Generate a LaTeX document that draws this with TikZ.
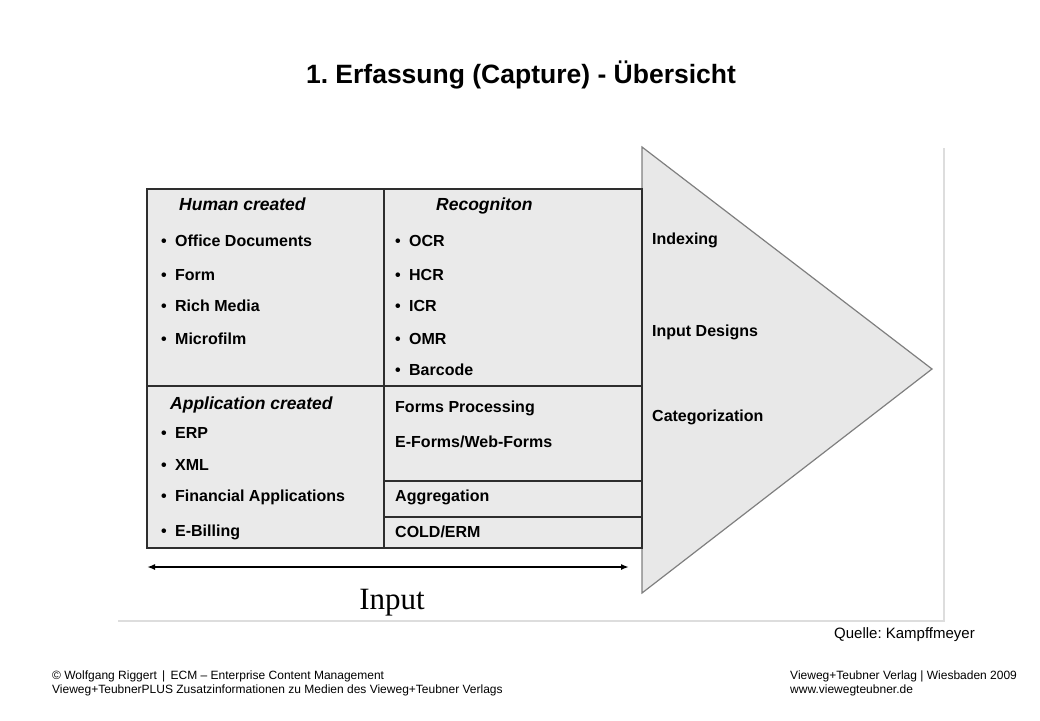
\documentclass[tikz,border=0pt]{standalone}
\usepackage{fontspec}
\setmainfont{Liberation Sans}
\newfontfamily\serifinput{Liberation Serif}
\usetikzlibrary{arrows.meta}
\frenchspacing

\definecolor{cellgray}{HTML}{EAEAEA}
\definecolor{arrowgray}{HTML}{E8E8E8}
\definecolor{edgegray}{HTML}{7F7F7F}
\definecolor{linegray}{HTML}{2E2E2E}
\definecolor{framegray}{HTML}{DDDDDD}

\begin{document}
\begin{tikzpicture}[x=1pt, y=-1pt,
  item/.style = {anchor=base west, inner sep=0pt, font=\fontsize{16}{19}\selectfont\bfseries},
  head/.style = {anchor=base west, inner sep=0pt, font=\fontsize{17.5}{21}\selectfont\bfseries\itshape},
  foot/.style = {anchor=base west, inner sep=0pt, font=\fontsize{12}{14}\selectfont},
  grid/.style = {draw=linegray, line width=1.5pt},
  inarrow/.style = {{Latex[length=8pt,width=6pt]}-{Latex[length=8pt,width=6pt]}, line width=2pt}
  ]
  \useasboundingbox (0,0) rectangle (1040,720);
  \node[inner sep=0pt, anchor=base, font=\fontsize{26.5}{30}\selectfont\bfseries] (title) at (521,83) {1. Erfassung (Capture) - Übersicht};

  % picture frame
  \draw[framegray, line width=1.2pt] (118,621) -- (944,621) -- (944,148);

  % big arrow
  \filldraw[fill=arrowgray, draw=edgegray, line width=1.2pt] (642,147) -- (932,369) -- (642,593) -- cycle;
  \node[item] (idx) at (652,244) {Indexing};
  \node[item] (ides) at (652,336) {Input Designs};
  \node[item] (cat) at (652,421) {Categorization};

  % table
  \filldraw[grid, fill=cellgray] (147,189) rectangle (642,548);
  \draw[grid] (384,189) -- (384,548);
  \draw[grid] (147,386) -- (642,386);
  \draw[grid] (384,481) -- (642,481);
  \draw[grid] (384,517) -- (642,517);

  \node[head] (human) at (179,210) {Human created};
  \foreach \y/\t [count=\i] in {246/Office Documents, 280/Form, 311/Rich Media, 344/Microfilm}
    \node[item] (hum\i) at (161,\y) {\makebox[14pt][l]{•}\t};
  \node[head] (appl) at (170,409) {Application created};
  \foreach \y/\t [count=\i] in {438/ERP, 470/XML, 501/Financial Applications, 536/E-Billing}
    \node[item] (app\i) at (161,\y) {\makebox[14pt][l]{•}\t};

  \node[head] (recog) at (436,210) {Recogniton};
  \foreach \y/\t [count=\i] in {246/OCR, 280/HCR, 311/ICR, 344/OMR, 375/Barcode}
    \node[item] (rec\i) at (395,\y) {\makebox[14pt][l]{•}\t};
  \foreach \y/\t [count=\i] in {412/Forms Processing, 447/{E-Forms/Web-Forms}, 501/Aggregation, 537/{COLD/ERM}}
    \node[item] (proc\i) at (395,\y) {\t};

  % input span
  \coordinate (inL) at (147,567);
  \coordinate (inR) at (629,567);
  \draw[inarrow] (inL) -- (inR);
  \node[inner sep=0pt, anchor=base, font=\serifinput\fontsize{31}{34}\selectfont] (input) at (392,609) {Input};

  \node[inner sep=0pt, anchor=base east, font=\fontsize{15}{18}\selectfont] (src) at (975,638) {Quelle: Kampffmeyer};

  % footer
  \node[foot] (foot1) at (52,679) {© Wolfgang Riggert \,|\, ECM – Enterprise Content Management};
  \node[foot] (foot2) at (52,693) {Vieweg+TeubnerPLUS Zusatzinformationen zu Medien des Vieweg+Teubner Verlags};
  \node[foot] (foot3) at (790,679) {Vieweg+Teubner Verlag | Wiesbaden 2009};
  \node[foot] (foot4) at (790,693) {www.viewegteubner.de};
\end{tikzpicture}
\end{document}
